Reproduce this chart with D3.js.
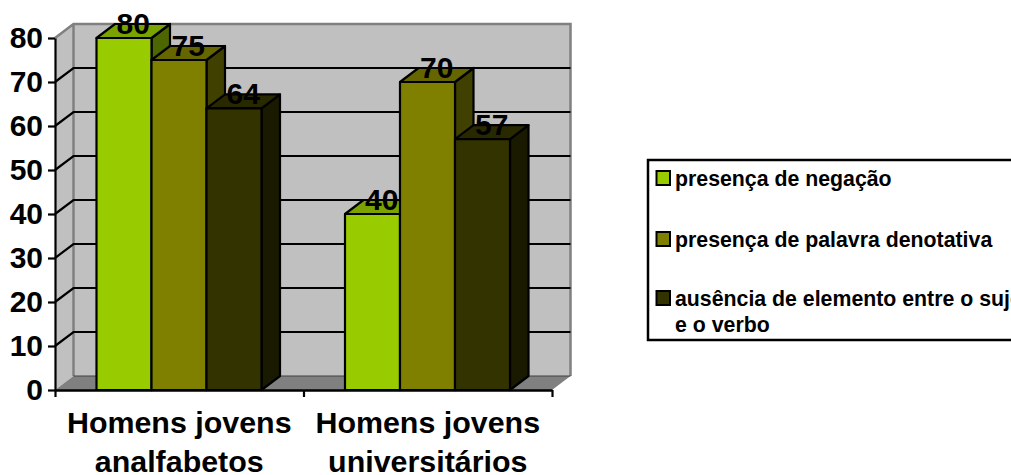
<!DOCTYPE html>
<html><head><meta charset="utf-8">
<script src="https://cdn.jsdelivr.net/npm/d3@7"></script>
<style>html,body{margin:0;padding:0;background:#fff;overflow:hidden}svg{display:block}text{font-family:"Liberation Sans",Arial,sans-serif;font-weight:bold;fill:#000}</style>
</head><body><svg id="c" width="1011" height="475"></svg>
<script>
const categories = [["Homens jovens","analfabetos"],["Homens jovens","universitários"]];
const seriesNames = ["presença de negação","presença de palavra denotativa","ausência de elemento entre o sujeito"];
const seriesValues = [[80,40],[75,70],[64,57]];
const seriesFront = ["#99CC00","#808000","#333300"];
const seriesTop = ["#7AA300","#666600","#292900"];
const seriesSide = ["#4D6600","#404000","#1A1A00"];
const yTicks = [0,10,20,30,40,50,60,70,80];
const legendBaselines = [185,246,305];

const svg = d3.select("#c");
const dx = 18.5, dy = -14;
const x0 = 55, x1 = 552, yB = 390, yT = 38;
const y = d3.scaleLinear().domain([0,80]).range([yB,yT]);
const xPos = d3.scaleLinear().domain([0,2]).range([x0,x1]);
const groups = d3.scaleBand().domain([0,1]).range([x0,x1]);
const bars = d3.scaleBand().domain([0,1,2]).range([41.5,41.5+165]);
const poly = pts => pts.map(p=>p.join(",")).join(" ");
const G = "#808080";
const BIG = "30px", CAT = "30.4px", LEG = "21.3px";

// walls
svg.append("polygon").attr("points",poly([[x0+dx,yT+dy],[x1+dx,yT+dy],[x1+dx,yB+dy],[x0+dx,yB+dy]])).attr("fill","#C0C0C0");
svg.append("polygon").attr("points",poly([[x0,yT],[x0+dx,yT+dy],[x0+dx,yB+dy],[x0,yB]])).attr("fill","#C0C0C0");
svg.append("polygon").attr("points",poly([[x0,yB],[x0+dx,yB+dy],[x1+dx,yB+dy],[x1,yB]])).attr("fill",G);
// wall edges
svg.append("path").attr("fill","none").attr("stroke",G).attr("stroke-width",2.5)
  .attr("d",`M${x0},${yT}L${x0+dx},${yT+dy}H${x1+dx}V${yB+dy}M${x0+dx},${yT+dy}V${yB+dy}`);
// gridlines
yTicks.filter(v=>v>0&&v<80).forEach(v=>{
  svg.append("path").attr("fill","none").attr("stroke","#000").attr("stroke-width",2.2)
    .attr("d",`M${x0},${y(v)}L${x0+dx},${y(v)+dy}H${x1+dx}`);
});
svg.append("path").attr("fill","none").attr("stroke","#404040").attr("stroke-width",1)
   .attr("d",`M${x0+dx},${yB+dy}H${x1+dx}`);
// bars
categories.forEach((c,g)=>{
  seriesValues.forEach((vals,s)=>{
    const L = groups(g)+bars(s), R = L+bars.bandwidth(), Y = y(vals[g]);
    const b = svg.append("g").attr("stroke","#000").attr("stroke-width",2.2).attr("stroke-linejoin","round");
    b.append("polygon").attr("points",poly([[R,Y],[R+dx,Y+dy],[R+dx,yB+dy],[R,yB]])).attr("fill",seriesSide[s]);
    b.append("polygon").attr("points",poly([[L,Y],[L+dx,Y+dy],[R+dx,Y+dy],[R,Y]])).attr("fill",seriesTop[s]);
    b.append("rect").attr("x",L).attr("y",Y).attr("width",R-L).attr("height",yB-Y).attr("fill",seriesFront[s]);
  });
});
// axes
const ya = svg.append("g").attr("transform",`translate(${x0},0)`)
  .call(d3.axisLeft(y).tickValues(yTicks).tickSize(7).tickPadding(5).tickSizeOuter(0));
ya.selectAll("line").attr("stroke","#000").attr("stroke-width",2.2);
ya.select(".domain").attr("stroke","#000").attr("stroke-width",2.2);
ya.selectAll("text").style("font-size",BIG).style("font-family",'"Liberation Sans"').style("font-weight","bold");
const xa = svg.append("g").attr("transform",`translate(0,${yB})`)
  .call(d3.axisBottom(xPos).tickValues([0,1,2]).tickSize(7).tickSizeOuter(0).tickFormat(""));
xa.selectAll("line").attr("stroke","#000").attr("stroke-width",2.2);
xa.select(".domain").attr("stroke","#000").attr("stroke-width",2.5);
// category labels
categories.forEach((c,g)=>{
  const cx = groups(g)+groups.bandwidth()/2;
  c.forEach((t,i)=>svg.append("text").attr("x",cx).attr("y",433+i*39).attr("text-anchor","middle").style("font-size",CAT).text(t));
});
// data labels
categories.forEach((c,g)=>{
  seriesValues.forEach((vals,s)=>{
    const L = groups(g)+bars(s);
    svg.append("text").attr("x",L+bars.bandwidth()/2+dx/2).attr("y",y(vals[g])-4)
      .attr("text-anchor","middle").style("font-size",BIG).text(vals[g]);
  });
});
// legend
svg.append("rect").attr("x",648).attr("y",160).attr("width",400).attr("height",180).attr("fill","#fff").attr("stroke","#000").attr("stroke-width",2.5);
seriesNames.forEach((n,i)=>{
  svg.append("rect").attr("x",656.5).attr("y",legendBaselines[i]-14).attr("width",13.5).attr("height",14).attr("fill",seriesFront[i]).attr("stroke","#000").attr("stroke-width",2);
  svg.append("text").attr("x",675).attr("y",legendBaselines[i]+0.6).style("font-size",LEG).text(n);
});
svg.append("text").attr("x",675).attr("y",331.6).style("font-size",LEG).text("e o verbo");
</script></body></html>
